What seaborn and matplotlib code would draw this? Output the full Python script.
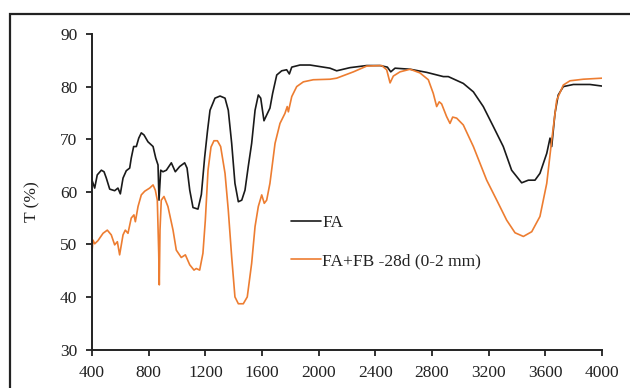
import numpy as np
import pandas as pd
import matplotlib
matplotlib.use("Agg")
import matplotlib.pyplot as plt
import seaborn as sns
from matplotlib.patches import Rectangle

# ---- data ----
fa_x = [400, 419, 437, 466, 485, 501, 525, 560, 583, 600, 619, 642, 666, 677, 694, 713, 730, 748,
        767, 795, 831, 850, 866, 873, 885, 901, 925, 960, 988, 1019, 1054, 1071, 1090, 1113, 1148,
        1172, 1195, 1215, 1233, 1268, 1304, 1339, 1362, 1386, 1409, 1433, 1457, 1480, 1503, 1527,
        1551, 1574, 1591, 1614, 1633, 1656, 1675, 1704, 1739, 1774, 1793, 1810, 1868, 1939, 1986,
        2080, 2127, 2221, 2339, 2433, 2485, 2509, 2539, 2645, 2763, 2880, 2915, 3021, 3092, 3162,
        3233, 3303, 3362, 3433, 3480, 3527, 3562, 3610, 3633, 3645, 3668, 3691, 3727, 3798, 3915,
        4000]
fa_y = [62.2, 60.7, 63.2, 64.1, 63.8, 62.6, 60.5, 60.2, 60.7, 59.6, 62.6, 64.0, 64.5, 66.4, 68.6,
        68.6, 70.2, 71.2, 70.8, 69.5, 68.6, 66.4, 65.1, 58.4, 64.1, 63.8, 64.1, 65.5, 63.8, 64.8,
        65.5, 64.5, 60.3, 57.0, 56.7, 59.5, 66.5, 71.5, 75.5, 77.8, 78.2, 77.8, 75.5, 69.2, 61.6,
        58.1, 58.4, 60.3, 64.8, 69.2, 75.5, 78.4, 77.8, 73.5, 74.6, 75.9, 78.7, 82.2, 83.0, 83.2,
        82.4, 83.7, 84.1, 84.1, 83.9, 83.5, 83.0, 83.6, 84.0, 84.0, 83.7, 82.8, 83.5, 83.3, 82.7,
        81.9, 81.9, 80.6, 79.0, 76.2, 72.4, 68.6, 64.1, 61.7, 62.2, 62.2, 63.5, 67.3, 70.2, 68.6,
        74.9, 78.4, 80.0, 80.4, 80.4, 80.1]

fb_x = [400, 407, 419, 442, 478, 508, 536, 560, 579, 595, 619, 635, 654, 677, 696, 706, 725, 748,
        772, 807, 831, 847, 861, 871, 875, 880, 889, 908, 936, 972, 995, 1030, 1059, 1090, 1120,
        1136, 1160, 1183, 1200, 1219, 1240, 1261, 1285, 1308, 1339, 1362, 1386, 1409, 1433, 1468,
        1496, 1527, 1551, 1574, 1598, 1616, 1633, 1656, 1692, 1727, 1762, 1778, 1786, 1810, 1845,
        1892, 1962, 2080, 2127, 2245, 2339, 2445, 2480, 2504, 2527, 2574, 2645, 2715, 2774, 2809,
        2833, 2851, 2868, 2903, 2927, 2946, 2974, 3021, 3092, 3186, 3257, 3327, 3386, 3445, 3504,
        3562, 3610, 3645, 3680, 3727, 3774, 3868, 4000]
fb_y = [48.6, 50.8, 50.1, 50.7, 52.1, 52.7, 51.8, 49.9, 50.5, 48.0, 51.8, 52.7, 52.1, 55.0, 55.6,
        54.3, 57.2, 59.4, 60.1, 60.7, 61.3, 60.3, 58.4, 48.3, 42.3, 52.7, 58.4, 59.1, 57.2, 52.7,
        48.9, 47.5, 48.0, 46.1, 45.1, 45.4, 45.1, 48.3, 54.6, 64.1, 68.5, 69.7, 69.7, 68.6, 63.5,
        56.5, 47.6, 40.0, 38.7, 38.7, 40.0, 46.4, 53.4, 57.2, 59.4, 57.8, 58.4, 61.6, 69.2, 73.0,
        74.9, 76.2, 75.2, 78.1, 80.0, 80.9, 81.3, 81.4, 81.6, 82.8, 83.9, 84.0, 83.2, 80.7, 82.0,
        82.8, 83.3, 82.6, 81.3, 78.7, 76.2, 77.1, 76.7, 74.3, 73.0, 74.2, 74.0, 72.7, 68.6, 62.2,
        58.4, 54.6, 52.2, 51.5, 52.4, 55.3, 61.6, 69.8, 77.4, 80.3, 81.1, 81.4, 81.6]

labels = ["FA", "FA+FB -28d (0-2 mm)"]
colors = ["#1a1a1a", "#ED7D31"]
x_ticks = [400, 800, 1200, 1600, 2000, 2400, 2800, 3200, 3600, 4000]
y_ticks = [30, 40, 50, 60, 70, 80, 90]

df = pd.concat([
    pd.DataFrame({"x": fa_x, "y": fa_y, "s": labels[0]}),
    pd.DataFrame({"x": fb_x, "y": fb_y, "s": labels[1]}),
])

sns.set_style("ticks")
plt.rcParams["font.family"] = ["Liberation Serif", "DejaVu Serif"]

fig = plt.figure(figsize=(6.3, 3.88), dpi=100)
ax = fig.add_axes([92 / 630, 1 - 349.5 / 388, 510 / 630, 315.5 / 388])

sns.lineplot(data=df, x="x", y="y", hue="s", palette=dict(zip(labels, colors)),
             estimator=None, sort=False, linewidth=1.2, ax=ax)

ax.set_xlim(400, 4000)
ax.set_ylim(30, 90)
ax.set_xticks(x_ticks)
ax.set_yticks(y_ticks)
ax.set_xlabel("")
ax.set_ylabel("T (%)", fontsize=12.5, color="#222222")
ax.yaxis.set_label_coords(-0.102, 0.47)

for s in ["top", "right"]:
    ax.spines[s].set_visible(False)
for s in ["left", "bottom"]:
    ax.spines[s].set_linewidth(1.4)
    ax.spines[s].set_color("#222222")
ax.tick_params(axis="both", direction="out", length=4.5, width=1.3, color="#222222",
               labelsize=12.5, labelcolor="#222222")
ax.tick_params(axis="y", pad=6)
ax.tick_params(axis="x", pad=7)

leg = ax.legend(loc="center left", bbox_to_anchor=((291 - 92) / 510, (349.5 - 242) / 315.5),
                frameon=False, fontsize=12.5, handlelength=1.75, handletextpad=0.05,
                labelspacing=1.25, borderpad=0, borderaxespad=0)
for t in leg.get_texts():
    t.set_color("#222222")

# outer frame around the figure (extends past right/bottom edge)
fig.patches.append(Rectangle((10 / 630, -0.2), 1.2, (1 - 14 / 388) + 0.2,
                             transform=fig.transFigure, fill=False,
                             edgecolor="#222222", linewidth=1.6, zorder=10))

fig.savefig("out.png", dpi=100)
